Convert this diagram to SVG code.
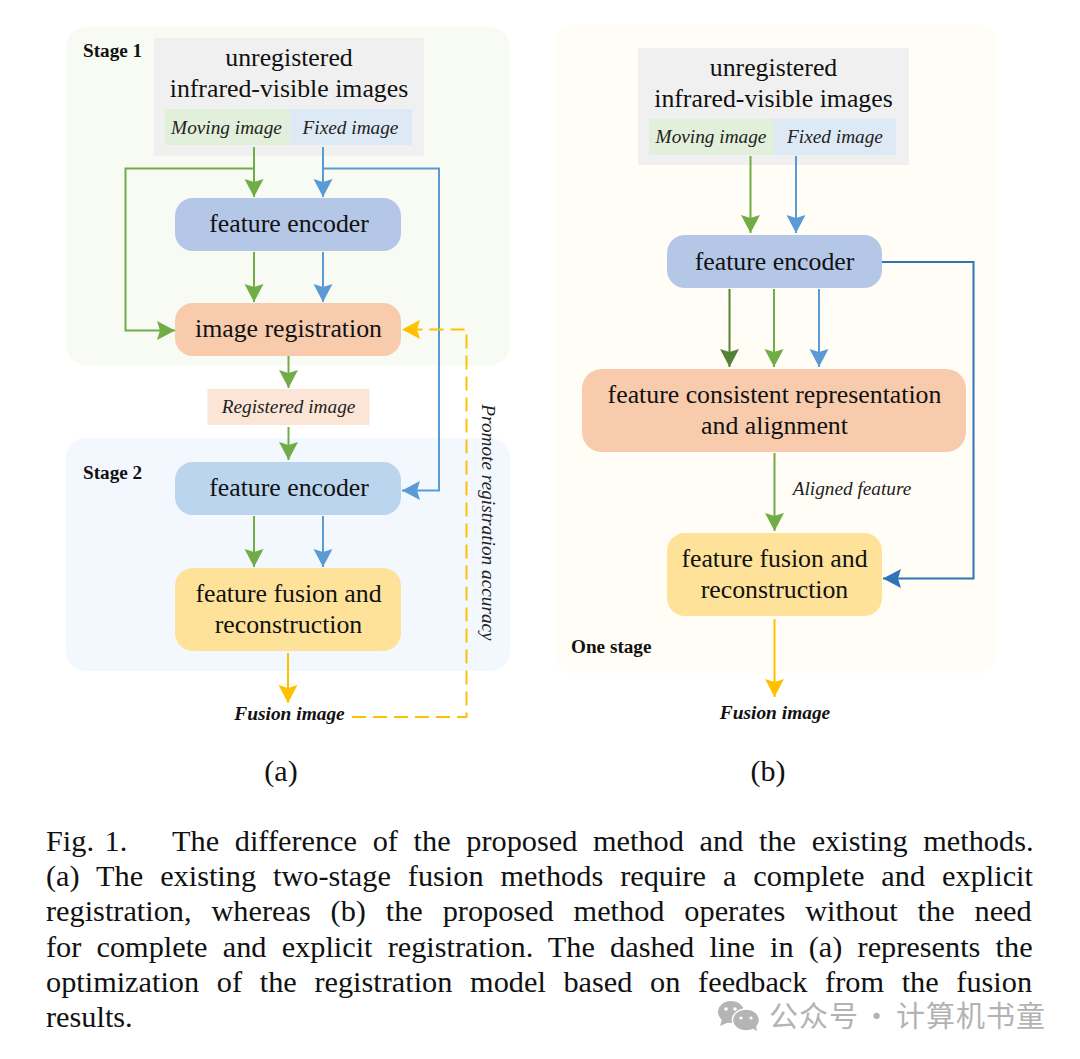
<svg xmlns="http://www.w3.org/2000/svg" width="1080" height="1059" viewBox="0 0 1080 1059">
<style>
text{font-family:"Liberation Serif","Times New Roman",serif;fill:#111;text-anchor:middle}
.n{font-size:25.800px}
.i{font-size:19.300px;font-style:italic;fill:#222}
.b{font-size:19.200px;font-weight:bold;text-anchor:start}
.f{font-size:19.400px;font-weight:bold;font-style:italic}
.c{font-size:30.300px;text-anchor:start}
.w{font-family:"Noto Sans CJK SC","Noto Sans",sans-serif;font-size:29px;fill:#b3b3b3;text-anchor:start;letter-spacing:1px}
.l{fill:none;stroke-width:2}
.g{stroke:#70ad47}.u{stroke:#5b9bd5}.y{stroke:#ffc000}.d{stroke:#548235}.k{stroke:#2e75b6}
</style>
<defs>
<marker id="ag" markerUnits="userSpaceOnUse" markerWidth="20" markerHeight="20" refX="18" refY="9.500" orient="auto"><path d="M0 0L18 9.500L0 19L3 9.500Z" fill="#70ad47"/></marker>
<marker id="au" markerUnits="userSpaceOnUse" markerWidth="20" markerHeight="20" refX="18" refY="9.500" orient="auto"><path d="M0 0L18 9.500L0 19L3 9.500Z" fill="#5b9bd5"/></marker>
<marker id="ay" markerUnits="userSpaceOnUse" markerWidth="20" markerHeight="20" refX="18" refY="9.500" orient="auto"><path d="M0 0L18 9.500L0 19L3 9.500Z" fill="#ffc000"/></marker>
<marker id="ad" markerUnits="userSpaceOnUse" markerWidth="20" markerHeight="20" refX="18" refY="9.500" orient="auto"><path d="M0 0L18 9.500L0 19L3 9.500Z" fill="#548235"/></marker>
<marker id="ak" markerUnits="userSpaceOnUse" markerWidth="20" markerHeight="20" refX="18" refY="9.500" orient="auto"><path d="M0 0L18 9.500L0 19L3 9.500Z" fill="#2e75b6"/></marker>
</defs>
<rect width="1080" height="1059" fill="#fff"/>
<g id="panels">
<rect x="66" y="27" width="444" height="338" rx="20" fill="#f7fbf3"/>
<rect x="66" y="438" width="444" height="233" rx="20" fill="#f3f8fe"/>
<rect x="554" y="25" width="443" height="648" rx="20" fill="#fffdf6"/>
</g>
<g id="a-input">
<rect x="154" y="38" width="270" height="118" fill="#f0f0f0"/>
<text class="n" x="289" y="66">unregistered</text>
<text class="n" x="289" y="97">infrared-visible images</text>
<rect x="165" y="109" width="125" height="36" fill="#e2efda"/>
<rect x="290" y="109" width="122" height="36" fill="#dee9f6"/>
<text class="i" x="226.500" y="133.500">Moving image</text>
<text class="i" x="350.500" y="133.500">Fixed image</text>
</g>
<g id="a-encoder1"><rect x="175" y="198" width="226" height="53" rx="18" fill="#b4c7e7"/><text class="n" x="289" y="232">feature encoder</text></g>
<g id="a-registration"><rect x="175" y="303" width="226" height="53" rx="18" fill="#f8cbad"/><text class="n" x="288.500" y="337">image registration</text></g>
<g id="a-registered"><rect x="207.500" y="389" width="162" height="36" fill="#fbe5d6"/><text class="i" x="288.500" y="413">Registered image</text></g>
<g id="a-encoder2"><rect x="175" y="462" width="226" height="53" rx="18" fill="#bbd5ee"/><text class="n" x="289" y="496">feature encoder</text></g>
<g id="a-fusion"><rect x="175" y="568" width="226" height="83" rx="18" fill="#ffe29a"/><text class="n" x="288.500" y="602">feature fusion and</text><text class="n" x="288.500" y="633">reconstruction</text></g>
<g id="b-input">
<rect x="638" y="48" width="271" height="117" fill="#f0f0f0"/>
<text class="n" x="773.500" y="75.500">unregistered</text>
<text class="n" x="773.500" y="106.500">infrared-visible images</text>
<rect x="649" y="118.500" width="125" height="36.500" fill="#e2efda"/>
<rect x="774" y="118.500" width="122" height="36.500" fill="#dee9f6"/>
<text class="i" x="711" y="143">Moving image</text>
<text class="i" x="835" y="143">Fixed image</text>
</g>
<g id="b-encoder"><rect x="667" y="235" width="215" height="53" rx="18" fill="#b4c7e7"/><text class="n" x="774.500" y="269.500">feature encoder</text></g>
<g id="b-consistent"><rect x="582" y="369" width="384" height="83" rx="20" fill="#f8cbad"/><text class="n" x="774.500" y="403">feature consistent representation</text><text class="n" x="774.500" y="434">and alignment</text></g>
<g id="b-fusion"><rect x="667" y="533" width="215" height="83" rx="18" fill="#ffe29a"/><text class="n" x="774.500" y="567">feature fusion and</text><text class="n" x="774.500" y="598">reconstruction</text></g>
<g id="connectors">
<path class="l g" d="M254 147V197" marker-end="url(#ag)"/>
<path class="l u" d="M323 147V197" marker-end="url(#au)"/>
<path class="l g" d="M254 168.500H125.500V330.500H175" marker-end="url(#ag)"/>
<path class="l u" d="M323 168.500H439V490.500H402" marker-end="url(#au)"/>
<path class="l g" d="M254 252V302" marker-end="url(#ag)"/>
<path class="l u" d="M323 252V302" marker-end="url(#au)"/>
<path class="l g" d="M288.500 356V388" marker-end="url(#ag)"/>
<path class="l g" d="M288.500 427V460" marker-end="url(#ag)"/>
<path class="l g" d="M254 516V567" marker-end="url(#ag)"/>
<path class="l u" d="M323 516V567" marker-end="url(#au)"/>
<path class="l y" d="M288 653V703" marker-end="url(#ay)"/>
<path class="l y" d="M352 717H466.500V329.500H402" stroke-dasharray="14 7" marker-end="url(#ay)"/>
<path class="l g" d="M750.500 156V233" marker-end="url(#ag)"/>
<path class="l u" d="M796 156V233" marker-end="url(#au)"/>
<path class="l d" d="M729.500 289V367" marker-end="url(#ad)"/>
<path class="l g" d="M774 289V367" marker-end="url(#ag)"/>
<path class="l u" d="M819 289V367" marker-end="url(#au)"/>
<path class="l g" d="M774.500 453V531" marker-end="url(#ag)"/>
<path class="l k" d="M882 262H973.500V578.500H883" marker-end="url(#ak)"/>
<path class="l y" d="M774.500 619V697" marker-end="url(#ay)"/>
</g>
<g id="labels">
<text class="b" x="83" y="57">Stage 1</text>
<text class="b" x="83" y="479">Stage 2</text>
<text class="b" x="571" y="653">One stage</text>
<text class="f" x="289.500" y="720">Fusion image</text>
<text class="f" x="775" y="719">Fusion image</text>
<text class="i" x="852" y="495">Aligned feature</text>
<text class="i" transform="translate(482 522.500) rotate(90)">Promote registration accuracy</text>
<text x="281" y="781" style="font-size:30px">(a)</text>
<text x="768" y="781" style="font-size:30px">(b)</text>
</g>
<g id="caption">
<text class="c" x="46" y="851" style="word-spacing:3px">Fig. 1.</text>
<text class="c" x="172" y="851" style="word-spacing:8.100px">The difference of the proposed method and the existing methods.</text>
<text class="c" x="46" y="886" style="word-spacing:9.400px">(a) The existing two-stage fusion methods require a complete and explicit</text>
<text class="c" x="46" y="921" style="word-spacing:12.300px">registration, whereas (b) the proposed method operates without the need</text>
<text class="c" x="46" y="957" style="word-spacing:7.600px">for complete and explicit registration. The dashed line in (a) represents the</text>
<text class="c" x="46" y="992" style="word-spacing:10.100px">optimization of the registration model based on feedback from the fusion</text>
<text class="c" x="46" y="1027">results.</text>
</g>
<g id="watermark">
<ellipse cx="731" cy="1012" rx="13" ry="11" fill="#b5b5b5"/>
<path d="M722 1019L720 1026L729 1022Z" fill="#b5b5b5"/>
<ellipse cx="746" cy="1020" rx="13.500" ry="11" fill="#b5b5b5" stroke="#fff" stroke-width="1.500"/>
<path d="M752 1028L757 1031L756 1025Z" fill="#b5b5b5"/>
<circle cx="726" cy="1009" r="1.800" fill="#fff"/><circle cx="735" cy="1009" r="1.800" fill="#fff"/>
<circle cx="741" cy="1018" r="1.600" fill="#fff"/><circle cx="751" cy="1018" r="1.600" fill="#fff"/>
<text class="w" x="769" y="1027">公众号</text>
<text class="w" x="862" y="1027">·</text>
<text class="w" x="896" y="1027">计算机书童</text>
</g>
</svg>
